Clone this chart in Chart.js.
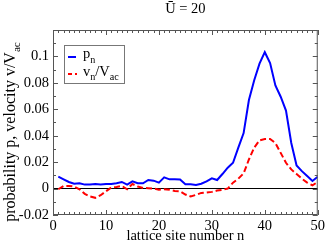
<!DOCTYPE html>
<html>
<head>
<meta charset="utf-8">
<script src="https://cdn.jsdelivr.net/npm/chart.js@4"></script>
<style>
  html, body { margin: 0; padding: 0; background: #fff; }
  #caixa { width: 327px; height: 243px; }
</style>
</head>
<body>
<div id="caixa"><canvas id="graficoRede"></canvas></div>
<script>
// sitios da rede (n) e as duas series
const sitios = [1, 2, 3, 4, 5, 6, 7, 8, 9, 10, 11, 12, 13, 14, 15, 16, 17, 18, 19, 20,
  21, 22, 23, 24, 25, 26, 27, 28, 29, 30, 31, 32, 33, 34, 35, 36, 37, 38, 39, 40,
  41, 42, 43, 44, 45, 46, 47, 48, 49, 50];
const probabilidade = [0.009, 0.007, 0.005, 0.0037, 0.004, 0.003, 0.003, 0.0035, 0.003, 0.0035,
  0.0035, 0.004, 0.005, 0.003, 0.0055, 0.004, 0.004, 0.0065, 0.006, 0.0045,
  0.0085, 0.007, 0.007, 0.0068, 0.0033, 0.0033, 0.0028, 0.0037, 0.0055, 0.0078,
  0.0065, 0.011, 0.0158, 0.0195, 0.031, 0.042, 0.067, 0.082, 0.0945, 0.1032,
  0.095, 0.078, 0.0695, 0.059, 0.0345, 0.0175, 0.0132, 0.0095, 0.0057, 0.009];
const velocidade = [-0.0005, 0.002, 0.002, 0.0015, -0.0005, -0.004, -0.006, -0.007, -0.005, -0.002,
  0.0008, 0.0012, 0.002, -0.0005, 0.0035, 0.0015, 0.0005, 0.0003, 0, -0.0008,
  -0.0005, -0.0008, -0.0018, -0.002, -0.0045, -0.006, -0.0048, -0.0033, -0.003, -0.0025,
  -0.0015, -0.001, 0, 0.0045, 0.0075, 0.0115, 0.022, 0.031, 0.0365, 0.0375,
  0.0375, 0.0345, 0.027, 0.0195, 0.0145, 0.011, 0.0075, 0.0045, 0.0025, 0.005];
const ticksX = [0, 10, 20, 30, 40, 50];
const ticksY = [-0.02, 0, 0.02, 0.04, 0.06, 0.08, 0.1];

const FONTE = "'Liberation Serif', 'DejaVu Serif', serif";

// desenha texto com pedacos em subscrito, retorna largura
function textoSub(ctx, partes, x, y, tam, medir) {
  let largura = 0;
  partes.forEach(p => {
    ctx.font = (p.sub ? tam * 0.7 : tam) + "px " + FONTE;
    if (!medir) ctx.fillText(p.t, x + largura, y + (p.sub ? tam * 0.32 : 0));
    largura += ctx.measureText(p.t).width;
  });
  return largura;
}

// moldura, ticks para dentro, titulo, legenda e titulo do eixo y
const extras = {
  id: "extras",
  afterDraw(chart) {
    const ctx = chart.ctx;
    const a = chart.chartArea;
    const sx = chart.scales.x, sy = chart.scales.y;
    ctx.save();
    ctx.strokeStyle = "#555";
    ctx.lineWidth = 1;
    ctx.strokeRect(a.left + 0.5, a.top + 0.5, a.right - a.left - 1, a.bottom - a.top - 1);
    ctx.beginPath();
    for (let v = 0; v <= 50; v++) {
      const px = Math.round(sx.getPixelForValue(v)) + 0.5;
      const L = v % 10 === 0 ? 5 : 3;
      ctx.moveTo(px, a.bottom); ctx.lineTo(px, a.bottom - L);
      ctx.moveTo(px, a.top); ctx.lineTo(px, a.top + L);
    }
    for (let k = -2; k <= 12; k++) {
      const py = Math.round(sy.getPixelForValue(k / 100)) + 0.5;
      const L = k % 2 === 0 ? 5 : 3;
      ctx.moveTo(a.left, py); ctx.lineTo(a.left + L, py);
      ctx.moveTo(a.right, py); ctx.lineTo(a.right - L, py);
    }
    ctx.stroke();

    // titulo
    ctx.fillStyle = "#000";
    ctx.font = "14.5px " + FONTE;
    ctx.textAlign = "center";
    ctx.textBaseline = "alphabetic";
    ctx.fillText("Ū = 20", (a.left + a.right) / 2, 13);
    ctx.textAlign = "left";

    // legenda
    ctx.strokeStyle = "#777";
    ctx.strokeRect(64.5, 45.5, 60, 38);
    ctx.lineWidth = 2;
    ctx.strokeStyle = "#0000ff";
    ctx.beginPath(); ctx.moveTo(68, 57); ctx.lineTo(76, 57); ctx.stroke();
    ctx.strokeStyle = "#ff0000";
    ctx.setLineDash([4, 3]);
    ctx.beginPath(); ctx.moveTo(68, 74); ctx.lineTo(77, 74); ctx.stroke();
    ctx.setLineDash([]);
    textoSub(ctx, [{t: "p"}, {t: "n", sub: true}], 83, 58, 14.5);
    textoSub(ctx, [{t: "v"}, {t: "n", sub: true}, {t: "/V"}, {t: "ac", sub: true}], 83, 75.5, 14.5);

    // titulo do eixo y
    const partes = [{t: "probability p, velocity v/V"}, {t: "ac", sub: true}];
    ctx.translate(15, 132);
    ctx.rotate(-Math.PI / 2);
    const w = textoSub(ctx, partes, 0, 0, 16, true);
    textoSub(ctx, partes, -w / 2, 0, 16);
    ctx.restore();
  }
};

const grafico = document.getElementById("graficoRede").getContext("2d");
new Chart(grafico, {
  type: "line",
  data: {
    datasets: [{
      label: "pn",
      data: sitios.map((n, i) => ({x: n, y: probabilidade[i]})),
      borderColor: "#0000ff",
      borderWidth: 2,
      pointRadius: 0,
      tension: 0,
      fill: false
    }, {
      label: "vn/Vac",
      data: sitios.map((n, i) => ({x: n, y: velocidade[i]})),
      borderColor: "#ff0000",
      borderWidth: 2,
      borderDash: [6, 3],
      pointRadius: 0,
      tension: 0,
      fill: false
    }]
  },
  options: {
    responsive: true,
    maintainAspectRatio: false,
    animation: false,
    layout: { padding: { top: 30, right: 8, left: 0, bottom: 0 } },
    plugins: { legend: { display: false }, title: { display: false }, tooltip: { enabled: false } },
    scales: {
      x: {
        type: "linear",
        min: 0,
        max: 50,
        afterBuildTicks: s => { s.ticks = ticksX.map(v => ({value: v})); },
        afterFit: s => { s.height = 28; },
        grid: { display: false, drawTicks: false },
        border: { display: false },
        ticks: { color: "#000", font: { family: FONTE, size: 14.5 }, padding: 2, maxRotation: 0 },
        title: { display: true, text: "lattice site number n", color: "#000",
                 font: { family: FONTE, size: 14.5 }, padding: { top: 0, bottom: -2 } }
      },
      y: {
        min: -0.02,
        max: 0.12,
        afterBuildTicks: s => { s.ticks = ticksY.map(v => ({value: v})); },
        afterFit: s => { s.width = 53; },
        grid: {
          drawTicks: false,
          color: c => (c.tick && Math.abs(c.tick.value) < 1e-9) ? "#000" : "rgba(0,0,0,0)",
          lineWidth: 1
        },
        border: { display: false },
        ticks: {
          color: "#000",
          font: { family: FONTE, size: 14.5 },
          padding: 4,
          callback: v => String(Number(v.toFixed(2)))
        }
      }
    }
  },
  plugins: [extras]
});
</script>
</body>
</html>
